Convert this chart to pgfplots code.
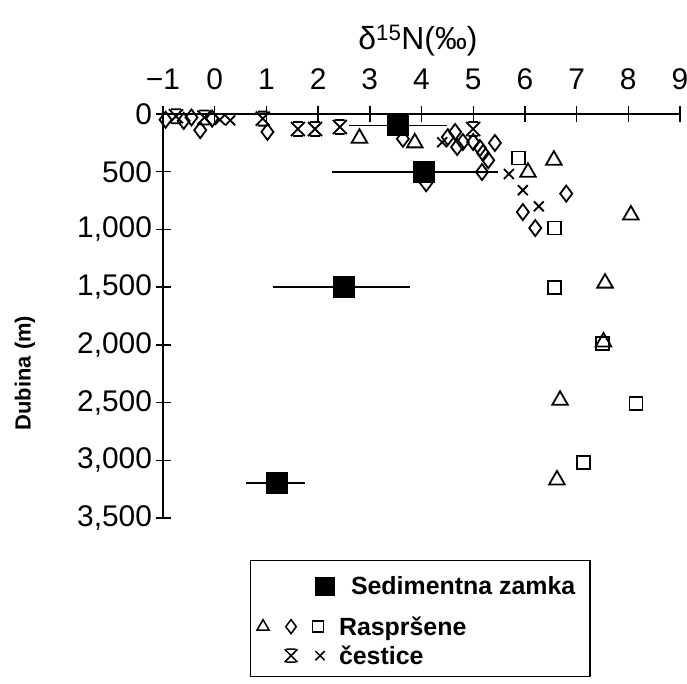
\documentclass[border=0pt]{standalone}
\usepackage{pgfplots}
\pgfplotsset{compat=1.18}
\usepackage{fontspec}
\setmainfont{Liberation Sans}

% X with short bars at top and bottom
\pgfdeclareplotmark{xbar}{%
  \pgfpathmoveto{\pgfqpoint{-\pgfplotmarksize}{-\pgfplotmarksize}}%
  \pgfpathlineto{\pgfqpoint{\pgfplotmarksize}{\pgfplotmarksize}}%
  \pgfpathmoveto{\pgfqpoint{-\pgfplotmarksize}{\pgfplotmarksize}}%
  \pgfpathlineto{\pgfqpoint{\pgfplotmarksize}{-\pgfplotmarksize}}%
  \pgfpathmoveto{\pgfqpoint{-0.7\pgfplotmarksize}{\pgfplotmarksize}}%
  \pgfpathlineto{\pgfqpoint{0.7\pgfplotmarksize}{\pgfplotmarksize}}%
  \pgfpathmoveto{\pgfqpoint{-0.7\pgfplotmarksize}{-\pgfplotmarksize}}%
  \pgfpathlineto{\pgfqpoint{0.7\pgfplotmarksize}{-\pgfplotmarksize}}%
  \pgfusepathqstroke}

\begin{document}
\begin{tikzpicture}
\useasboundingbox (0,0) rectangle (687bp,684bp);
\begin{axis}[
  at={(163bp,570bp)}, anchor=north west,
  scale only axis, width=517bp, height=404bp,
  xmin=-1, xmax=9, ymin=0, ymax=3500,
  y dir=reverse,
  axis x line*=top, axis y line*=left,
  xtick={-1,0,...,9},
  xticklabels={−1,0,1,2,3,4,5,6,7,8,9},
  ytick={0,500,...,3500},
  /pgf/number format/assume math mode=true,
  /pgf/number format/1000 sep={,},
  tick align=center,
  major tick length=15bp,
  tick style={line width=1.4bp, black},
  axis line style={line width=1.6bp, black},
  tick label style={font=\fontsize{30}{30}\selectfont},
  xticklabel style={yshift=13bp},
  clip=false,
  legend style={at={(axis description cs:0.168,-0.104)}, anchor=north west,
    draw=black, line width=1.2bp, row sep=5bp,
    font=\fontsize{25}{27}\selectfont\bfseries},
  legend cell align=left,
  mk/.style={only marks, black, forget plot, mark options={line width=1.8bp, solid}},
]

% sediment trap
\addplot[mk, mark=square*, mark size=10bp,
  error bars/.cd, x dir=both, x explicit, error mark=none,
  error bar style={line width=1.8bp}]
  coordinates {
  (3.55,100) += (0.95,0) -= (0.95,0)
  (4.05,500) += (1.43,0) -= (1.78,0)
  (2.50,1500) += (1.28,0) -= (1.37,0)
  (1.20,3200) += (0.55,0) -= (0.59,0)
  };

% triangles
\addplot[mk, mark=triangle, mark size=9bp] coordinates {
  (2.80,210) (3.87,250) (6.06,505) (6.56,400) (8.05,875)
  (7.55,1465) (7.52,1975) (6.68,2480) (6.62,3170)
  };

% diamonds
\addplot[mk, mark=diamond, mark size=8bp] coordinates {
  (-0.95,50) (-0.6,60) (-0.45,30) (-0.28,140) (-0.05,40) (1.02,155)
  (3.64,215) (4.09,600)
  (4.51,200) (4.65,156) (4.69,286) (4.80,243) (5.00,243) (5.13,295)
  (5.19,338) (5.42,251) (5.29,400) (5.17,503)
  (6.80,690) (5.96,850) (6.20,988)
  };

% open squares
\addplot[mk, mark=square, mark size=6.5bp] coordinates {
  (5.87,382) (6.58,988) (6.58,1500) (7.50,1990) (8.15,2506) (7.14,3017)
  };

% barred crosses
\addplot[mk, mark=xbar, mark size=7bp] coordinates {
  (-0.75,20) (-0.2,30) (0.93,40) (1.61,130) (1.94,130) (2.42,113) (5.00,130)
  };

% crosses
\addplot[mk, mark=x, mark size=7bp] coordinates {
  (0.10,50) (0.30,55) (4.40,245) (5.69,520) (5.96,660) (6.27,800)
  };

% legend
\addlegendimage{legend image code/.code={
  \path[draw=none, fill=none] (-9.6bp,-23bp) rectangle (74bp,24bp);
  \draw[black, fill=black, mark size=9bp] plot[mark=square*] coordinates {(62bp,0bp)};
}}
\addlegendentry{\makebox[246bp][l]{\hspace{12bp}Sedimentna zamka}}
\addlegendimage{legend image code/.code={
  \path[draw=none, fill=none] (-9.6bp,-8bp) rectangle (74bp,8bp);
  \draw[black, line width=1.5bp, mark size=7bp] plot[mark=triangle] coordinates {(0bp,0bp)};
  \draw[black, line width=1.5bp, mark size=7bp] plot[mark=diamond] coordinates {(28bp,0bp)};
  \draw[black, line width=1.5bp, mark size=5.5bp] plot[mark=square] coordinates {(55bp,0bp)};
}}
\addlegendentry{Raspršene}
\addlegendimage{legend image code/.code={
  \path[draw=none, fill=none] (-9.6bp,-19bp) rectangle (74bp,8bp);
  \draw[black, line width=1.5bp, mark size=6.5bp] plot[mark=xbar] coordinates {(28bp,0bp)};
  \draw[black, line width=1.5bp, mark size=6.5bp] plot[mark=x] coordinates {(57bp,0bp)};
}}
\addlegendentry{čestice}
\end{axis}
\node[font=\fontsize{32}{32}\selectfont] at (418bp,643bp) {δ\textsuperscript{15}N(‰)};
\node[rotate=90, font=\fontsize{22}{22}\selectfont\bfseries] at (25bp,311bp) {Dubina (m)};
\end{tikzpicture}
\end{document}
